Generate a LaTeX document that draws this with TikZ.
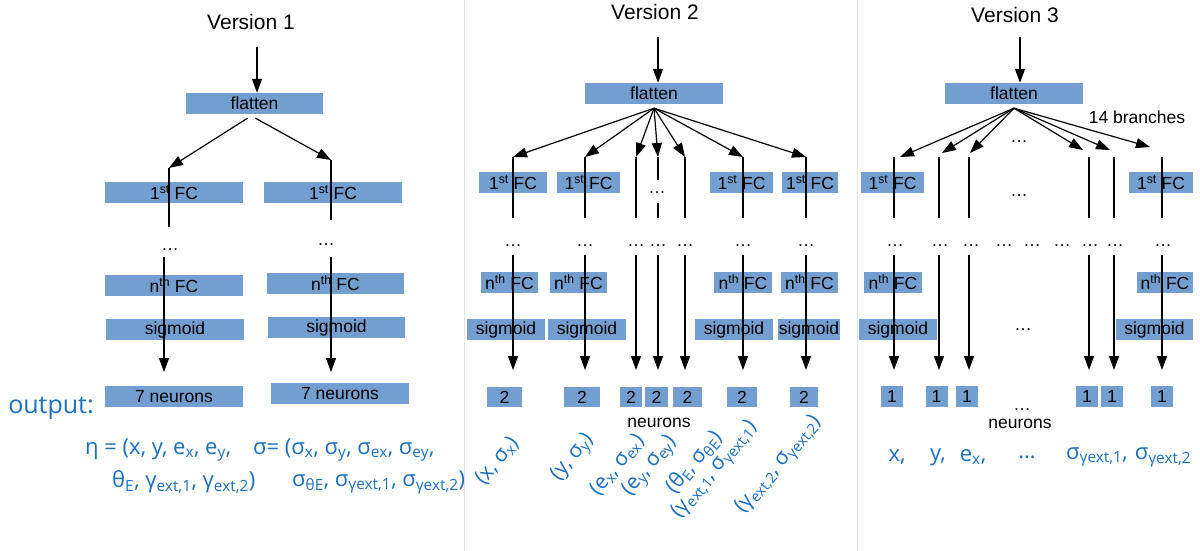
\documentclass[tikz,border=0pt]{standalone}
\usepackage{fontspec}
\setmainfont{Liberation Sans}
\newfontfamily\outfont{Open Sans}
\usetikzlibrary{arrows.meta}
\usetikzlibrary{positioning}
\definecolor{boxblue}{RGB}{114,159,207}
\definecolor{outblue}{RGB}{28,112,190}
\newcommand{\boxfont}{\fontsize{17.5}{17.5}\selectfont}
\newcommand{\sub}[1]{\textsubscript{#1}}
\tikzset{
  layer/.style={fill=boxblue, inner sep=0pt, minimum height=21, font=\boxfont},
  unit/.style={fill=boxblue, inner sep=0pt, minimum height=21, font=\boxfont},
  dots/.style={inner sep=0pt, font=\boxfont},
  plain/.style={inner sep=0pt, font=\boxfont},
  title/.style={inner sep=0pt, font=\fontsize{21}{21}\selectfont},
  outtext/.style={inner sep=0pt, text=outblue, font=\outfont\fontsize{22}{22}\selectfont},
  tilted/.style={outtext, font=\outfont\fontsize{21}{21}\selectfont, rotate=50},
  conn/.style={line width=1.2pt},
  >={Triangle[length=14pt,width=10pt]}
}
\begin{document}
\begin{tikzpicture}[x=1pt,y=-1pt]
\fill[white] (0,0) rectangle (1200,551);
\useasboundingbox (0,0) rectangle (1200,551);
\draw[black!10, line width=1pt] (464,0) -- (464,551);
\draw[black!10, line width=1pt] (857,0) -- (857,551);

% Version 1
\node[title] (t1) at (251,22) {Version 1};
\coordinate (in1) at (257,47);
\node[layer, minimum width=137] (fl1) at (254.5,103.5) {flatten};
\node[layer, minimum width=138] (fcA) at (174,192.5) {1\textsuperscript{st} FC};
\node[layer, minimum width=138] (fcB) at (333,192.5) {1\textsuperscript{st} FC};
\node[dots] (dA) at (170,250) {\dots};
\node[dots] (dB) at (326,245) {\dots};
\node[layer, minimum width=138] (nA) at (174,285.5) {n\textsuperscript{th} FC};
\node[layer, minimum width=137] (nB) at (335.5,283.5) {n\textsuperscript{th} FC};
\node[layer, minimum width=138] (sA) at (175,329.5) {sigmoid};
\node[layer, minimum width=137] (sB) at (336.5,327.5) {sigmoid};
\node[layer, minimum width=138] (oA) at (174,396.5) {7 neurons};
\node[layer, minimum width=138] (oB) at (340,393.5) {7 neurons};
\coordinate (aA) at (169,168); \coordinate (bA) at (169,227);
\coordinate (cA) at (164,257); \coordinate (eA) at (164,372);
\coordinate (aB) at (331,160); \coordinate (bB) at (331,220);
\coordinate (cB) at (331,257); \coordinate (eB) at (331,372);
\draw[conn,->] (in1) -- (in1 |- fl1.north);
\draw[conn,->] ([xshift=-7pt,yshift=-4pt]fl1.south) -- (aA);
\draw[conn,->] ([xshift=1pt,yshift=-4pt]fl1.south) -- (aB);
\draw[conn] (aA) -- (bA);
\draw[conn] (aB) -- (bB);
\draw[conn,->] (cA) -- (eA);
\draw[conn,->] (cB) -- (eB);
\node[outtext, font=\outfont\fontsize{25}{25}\selectfont] (out) at (51,408) {output:};
\node[outtext, anchor=west] (eta1) at (85,450) {η = (x, y, e\sub{x}, e\sub{y},};
\node[outtext, anchor=west] (sig1) at (253,450) {σ= (σ\sub{x}, σ\sub{y}, σ\sub{ex}, σ\sub{ey},};
\node[outtext, anchor=west] (eta2) at (112,482) {θ\sub{E}, γ\sub{ext,1}, γ\sub{ext,2})};
\node[outtext, anchor=west] (sig2) at (292,482) {σ\sub{θE}, σ\sub{γext,1}, σ\sub{γext,2})};

% Version 2
\node[title] (t2) at (655,12) {Version 2};
\coordinate (in2) at (658,37);
\node[layer, minimum width=138] (fl2) at (654,93.5) {flatten};
\draw[conn,->] (in2) -- (in2 |- fl2.north);
\node[layer, minimum width=68] (fc21) at (513,182.5) {1\textsuperscript{st} FC};
\node[layer, minimum width=63] (fc22) at (588.5,182.5) {1\textsuperscript{st} FC};
\node[layer, minimum width=63] (fc26) at (741.5,182.5) {1\textsuperscript{st} FC};
\node[layer, minimum width=56] (fc27) at (810,182.5) {1\textsuperscript{st} FC};
\node[layer, minimum width=57] (n21) at (509.5,282.5) {n\textsuperscript{th} FC};
\node[layer, minimum width=57] (n22) at (578.5,282.5) {n\textsuperscript{th} FC};
\node[layer, minimum width=58] (n26) at (743,282.5) {n\textsuperscript{th} FC};
\node[layer, minimum width=57] (n27) at (809.5,282.5) {n\textsuperscript{th} FC};
\node[layer, minimum width=78] (s21) at (506,329.5) {sigmoid};
\node[layer, minimum width=78] (s22) at (587,329.5) {sigmoid};
\node[layer, minimum width=78] (s26) at (734,329.5) {sigmoid};
\node[layer, minimum width=62] (s27) at (809,329.5) {sigmoid};
\foreach \i/\x/\w in {1/504.5/35,2/582/36,3/631/22,4/656.5/23,5/687.5/29,6/742/30,7/804/28}
  \node[unit, minimum width=\w, minimum height=20] (o2\i) at (\x,397) {2};
\node[dots] (d2top) at (657,193) {\dots};
\foreach \i/\x in {1/513,2/585,3/636,4/658,5/685,6/743,7/806}{
  \coordinate (u2\i) at (\x,157);
  \coordinate (v2\i) at (\x,218);
  \coordinate (w2\i) at (\x,255);
  \coordinate (z2\i) at (\x,370);
  \node[dots] (d2\i) at (\x,246) {\dots};
  \draw[conn,->] ([yshift=-4pt]fl2.south) -- (u2\i);
  \draw[conn,->] (w2\i) -- (z2\i);
}
\foreach \i in {1,2,3,5,6,7}
  \draw[conn] (u2\i) -- (v2\i);
\draw[conn] (u24) -- (658,180);
\draw[conn] (658,203) -- (v24);
\node[plain] (nr2) at (659,423) {neurons};
\node[tilted] (l21) at (497,461) {(x, σ\sub{x})};
\node[tilted] (l22) at (573,458) {(y, σ\sub{y})};
\node[tilted] (l23) at (617,465) {(e\sub{x}, σ\sub{ex})};
\node[tilted] (l24) at (650,466) {(e\sub{y}, σ\sub{ey})};
\node[tilted] (l25) at (694,462) {(θ\sub{E}, σ\sub{θE})};
\node[tilted] (l26) at (715,470) {(γ\sub{ext,1}, σ\sub{γext,1})};
\node[tilted] (l27) at (779,465) {(γ\sub{ext,2}, σ\sub{γext,2})};

% Version 3
\node[title] (t3) at (1015,15) {Version 3};
\coordinate (in3) at (1020,37);
\node[layer, minimum width=138] (fl3) at (1014,93.5) {flatten};
\draw[conn,->] (in3) -- (in3 |- fl3.north);
\node[plain] (br) at (1137,117) {14 branches};
\node[dots] (d3a) at (1019,142) {\dots};
\node[dots] (d3b) at (1019,196) {\dots};
\node[dots] (d3c) at (1023,330) {\dots};
\node[layer, minimum width=63] (fc31) at (892.5,182.5) {1\textsuperscript{st} FC};
\node[layer, minimum width=64] (fc36) at (1161,182.5) {1\textsuperscript{st} FC};
\node[layer, minimum width=58] (n31) at (893,282.5) {n\textsuperscript{th} FC};
\node[layer, minimum width=56] (n36) at (1165,282.5) {n\textsuperscript{th} FC};
\node[layer, minimum width=78] (s31) at (898,329.5) {sigmoid};
\node[layer, minimum width=77] (s36) at (1154.5,329.5) {sigmoid};
\foreach \i/\x in {1/892,2/936.5,3/967,4/1087,5/1112,6/1162}
  \node[unit, minimum width=22] (o3\i) at (\x,396.5) {1};
\foreach \x [count=\i] in {895,940,971,1004,1032,1062,1090,1115,1163}
  \node[dots] (d3\i) at (\x,246) {\dots};
\foreach \i/\x/\ax/\ay in {1/894/900/157,2/939/942/153,3/969/970/153,4/1089/1083/150,5/1114/1110/150,6/1162/1150/147}{
  \coordinate (u3\i) at (\x,157);
  \coordinate (v3\i) at (\x,218);
  \coordinate (w3\i) at (\x,255);
  \coordinate (z3\i) at (\x,370);
  \coordinate (h3\i) at (\ax,\ay);
  \draw[conn,->] ([yshift=-4pt]fl3.south) -- (h3\i);
  \draw[conn] (u3\i) -- (v3\i);
  \draw[conn,->] (w3\i) -- (z3\i);
}
\node[dots] (d3o) at (1022,410) {\dots};
\node[plain] (nr3) at (1020,424) {neurons};
\node[outtext] (l31) at (897,457) {x,};
\node[outtext] (l32) at (938,457) {y,};
\node[outtext] (l33) at (973,457) {e\sub{x},};
\node[outtext] (l34) at (1027,457) {\dots};
\node[outtext] (l35) at (1097,457) {σ\sub{γext,1},};
\node[outtext] (l36) at (1163,457) {σ\sub{γext,2}};
\end{tikzpicture}
\end{document}
